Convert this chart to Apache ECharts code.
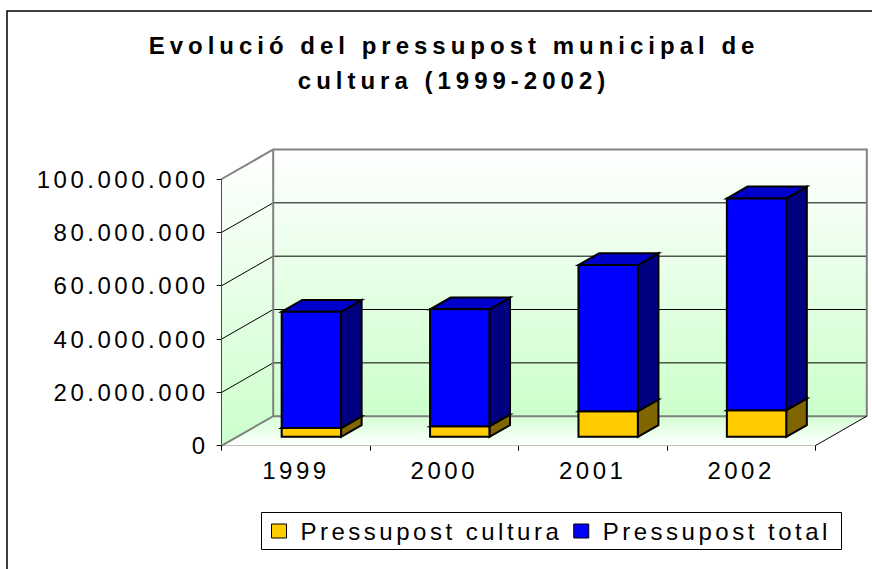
<!DOCTYPE html>
<html>
<head>
<meta charset="utf-8">
<script src="https://cdn.jsdelivr.net/npm/echarts@6/dist/echarts.min.js"></script>
<style>
  html, body { margin: 0; padding: 0; background: #fff; }
  #chart { width: 872px; height: 569px; }
  #chart text { letter-spacing: 3.5px; }
  #chart text[style*="bold"] { letter-spacing: 5px; }
</style>
</head>
<body>
<div id="chart"></div>
<script>
// ---- data ----
const categories = ['1999', '2000', '2001', '2002'];
const culturaValues = [3300000, 4000000, 9600000, 10000000];
const totalValues = [43600000, 43800000, 54800000, 79400000];
const yTicks = [0, 20000000, 40000000, 60000000, 80000000, 100000000];
const seriesNames = ['Pressupost cultura', 'Pressupost total'];
const titleText = 'Evolució del pressupost municipal de\ncultura (1999-2002)';

// ---- style / layout constants ----
const FONT = '"Liberation Sans", Arial, sans-serif';
const DEPTH = [51.5, -29.5];      // oblique depth vector of the 3D box
const BAR_D0 = 0.3, BAR_D1 = 0.7; // bar depth range (fraction of depth)
const BAR_W = 0.4;                // bar width as fraction of band

function fmt(v) {
  return String(v).replace(/\B(?=(\d{3})+(?!\d))/g, '.');
}

function renderWalls(params, api) {
  const bw = api.size([1, 0])[0];
  const first = api.coord([0, yTicks[0]]);
  const last = api.coord([categories.length - 1, yTicks[0]]);
  const x0 = first[0] - bw / 2, x1 = last[0] + bw / 2;
  const y0 = first[1];
  const yT = api.coord([0, yTicks[yTicks.length - 1]])[1];
  const dx = DEPTH[0], dy = DEPTH[1];
  const children = [];
  const wallGrad = new echarts.graphic.LinearGradient(0, 0, 0, 1, [
    { offset: 0, color: '#FFFFFF' }, { offset: 1, color: '#CCFFCC' }]);
  const floorGrad = new echarts.graphic.LinearGradient(0, 0, 0, 1, [
    { offset: 0, color: '#D4FFD4' }, { offset: 1, color: '#FFFFFF' }]);
  // back wall
  children.push({ type: 'polygon', shape: { points: [[x0 + dx, yT + dy], [x1 + dx, yT + dy], [x1 + dx, y0 + dy], [x0 + dx, y0 + dy]] },
    style: { fill: wallGrad, stroke: null } });
  // left wall
  children.push({ type: 'polygon', shape: { points: [[x0, y0], [x0, yT], [x0 + dx, yT + dy], [x0 + dx, y0 + dy]] },
    style: { fill: new echarts.graphic.LinearGradient(0, 0, 0, 1, [
      { offset: 0, color: '#FFFFFF' }, { offset: 1, color: '#CCFFCC' }]), stroke: null } });
  // floor
  children.push({ type: 'polygon', shape: { points: [[x0, y0], [x1, y0], [x1 + dx, y0 + dy], [x0 + dx, y0 + dy]] },
    style: { fill: floorGrad, stroke: null } });
  // gridlines
  for (let k = 1; k < yTicks.length - 1; k++) {
    const yv = api.coord([0, yTicks[k]])[1];
    children.push({ type: 'polyline', shape: { points: [[x0, yv], [x0 + dx, yv + dy], [x1 + dx, yv + dy]] },
      style: { fill: null, stroke: '#000', lineWidth: 1 } });
  }
  // gray edges
  const gray = { fill: null, stroke: '#808080', lineWidth: 2 };
  children.push({ type: 'polyline', shape: { points: [[x0, y0], [x0 + dx, y0 + dy], [x1 + dx, y0 + dy]] }, style: gray });
  children.push({ type: 'polyline', shape: { points: [[x0, yT], [x0 + dx, yT + dy], [x1 + dx, yT + dy], [x1 + dx, y0 + dy]] }, style: gray });
  children.push({ type: 'line', shape: { x1: x0 + dx, y1: yT + dy, x2: x0 + dx, y2: y0 + dy }, style: gray });
  // floor right edge
  children.push({ type: 'line', shape: { x1: x1, y1: y0, x2: x1 + dx, y2: y0 + dy }, style: { stroke: '#000', lineWidth: 1 } });
  return { type: 'group', children: children };
}

function makeBarRenderer(front, side, top) {
  return function (params, api) {
    const i = api.value(0);
    const cb = api.coord([i, api.value(1)]);
    const yt0 = api.coord([i, api.value(2)])[1];
    const bw = api.size([1, 0])[0];
    const w = bw * BAR_W;
    const ox = DEPTH[0] * BAR_D0, oy = DEPTH[1] * BAR_D0;
    const ddx = DEPTH[0] * (BAR_D1 - BAR_D0), ddy = DEPTH[1] * (BAR_D1 - BAR_D0);
    const xl = cb[0] - w / 2 + ox, xr = cb[0] + w / 2 + ox;
    const yb = cb[1] + oy, yt = yt0 + oy;
    const line = { stroke: '#000', lineWidth: 2, lineJoin: 'miter' };
    return {
      type: 'group',
      children: [
        { type: 'polygon', shape: { points: [[xr, yb], [xr + ddx, yb + ddy], [xr + ddx, yt + ddy], [xr, yt]] },
          style: Object.assign({ fill: side }, line) },
        { type: 'polygon', shape: { points: [[xl, yt], [xr, yt], [xr + ddx, yt + ddy], [xl + ddx, yt + ddy]] },
          style: Object.assign({ fill: top }, line) },
        { type: 'rect', shape: { x: xl, y: yt, width: xr - xl, height: yb - yt },
          style: Object.assign({ fill: front }, line) }
      ]
    };
  };
}

const culturaData = categories.map((c, i) => [i, 0, culturaValues[i]]);
const totalData = categories.map((c, i) => [i, culturaValues[i], culturaValues[i] + totalValues[i]]);

const chart = echarts.init(document.getElementById('chart'), null, { renderer: 'svg' });
chart.setOption({
  animation: false,
  backgroundColor: '#FFFFFF',
  textStyle: { fontFamily: FONT },
  title: {
    text: titleText,
    left: 449,
    top: 23,
    textAlign: 'center',
    textStyle: { fontFamily: FONT, fontSize: 24, fontWeight: 'bold', color: '#000', lineHeight: 35 }
  },
  legend: {
    data: seriesNames,
    left: 271,
    top: 519,
    padding: 0,
    itemWidth: 15,
    itemHeight: 14,
    itemGap: 74,
    icon: 'rect',
    itemStyle: { borderColor: '#000', borderWidth: 1 },
    textStyle: { fontFamily: FONT, fontSize: 24, color: '#000', padding: [0, 0, 0, 9] }
  },
  grid: { left: 221.7, right: 56.7, top: 179, bottom: 123.3, containLabel: false },
  xAxis: {
    type: 'category',
    data: categories,
    boundaryGap: true,
    axisLine: { lineStyle: { color: '#000', width: 1 } },
    axisTick: { show: true, length: 5, alignWithLabel: false, lineStyle: { color: '#000' } },
    axisLabel: { interval: 0, color: '#000', fontSize: 24, fontFamily: FONT, margin: 13 },
    splitLine: { show: false }
  },
  yAxis: {
    type: 'value',
    min: yTicks[0],
    max: yTicks[yTicks.length - 1],
    interval: yTicks[1] - yTicks[0],
    axisLine: { show: true, lineStyle: { color: '#000', width: 1 } },
    axisTick: { show: true, length: 5, lineStyle: { color: '#000' } },
    axisLabel: { color: '#000', fontSize: 24, fontFamily: FONT, margin: 13, formatter: fmt },
    splitLine: { show: false }
  },
  graphic: [
    { type: 'rect', shape: { x: 7, y: 11, width: 900, height: 600 }, style: { fill: null, stroke: '#000', lineWidth: 1.5 }, silent: true, z: 100 },
    { type: 'rect', shape: { x: 261.5, y: 512.5, width: 580, height: 37 }, style: { fill: null, stroke: '#000', lineWidth: 1 }, silent: true, z: 100 }
  ],
  series: [
    { type: 'custom', name: 'walls', data: [[0, 0]], renderItem: renderWalls, silent: true, clip: false, z: 1 },
    { type: 'custom', name: seriesNames[0], data: culturaData, encode: { x: 0, y: [1, 2] },
      itemStyle: { color: '#FFCC00' }, renderItem: makeBarRenderer('#FFCC00', '#806600', '#CCA300'), clip: false, z: 3 },
    { type: 'custom', name: seriesNames[1], data: totalData, encode: { x: 0, y: [1, 2] },
      itemStyle: { color: '#0000FF' }, renderItem: makeBarRenderer('#0000FF', '#000080', '#0000CC'), clip: false, z: 4 }
  ]
});
</script>
</body>
</html>
